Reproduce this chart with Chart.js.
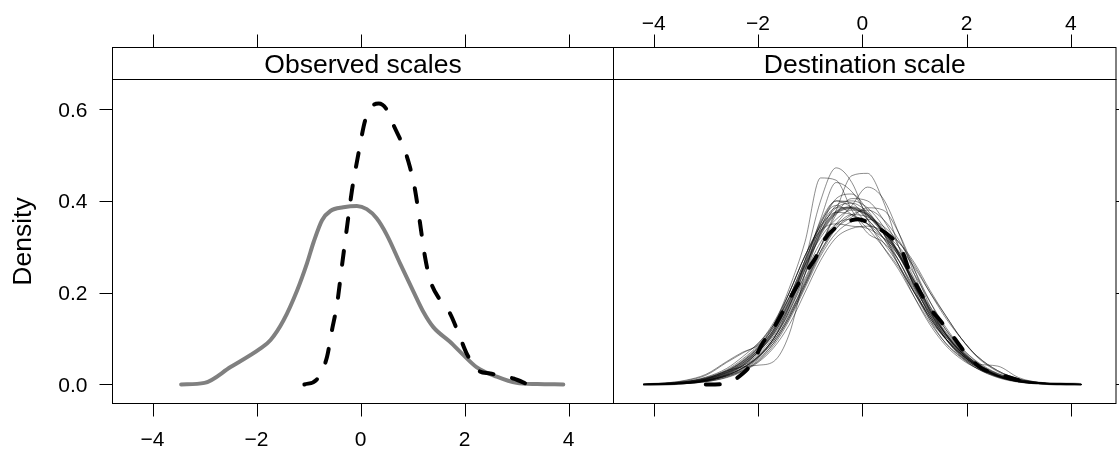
<!DOCTYPE html>
<html>
<head>
<meta charset="utf-8">
<script src="https://cdn.jsdelivr.net/npm/chart.js@4.4.1/dist/chart.umd.min.js"></script>
<style>
  html, body { margin: 0; padding: 0; background: #ffffff; }
  #wrap { position: relative; width: 1119px; height: 449px; overflow: hidden; background: #ffffff; }
  canvas { position: absolute; left: 0; top: 0; }
</style>
</head>
<body>
<div id="wrap">
  <canvas id="c1" width="1119" height="449"></canvas>
  <canvas id="c2" width="1119" height="449"></canvas>
</div>
<script>
// ---------------- data ----------------
const panelTitles = ['Observed scales', 'Destination scale'];
const yTitle = 'Density';
const xTicks = [-4, -2, 0, 2, 4];
const xTickLabels = ['\u22124', '\u22122', '0', '2', '4'];
const yTicks = [0, 0.2, 0.4, 0.6];
const yTickLabels = ['0.0', '0.2', '0.4', '0.6'];

// Left panel: observed (grey solid) and reference (black dashed)
const obsX = [-3.45, -3.0, -2.5, -1.93, -1.73, -1.48, -1.22, -1.03, -0.9, -0.74, -0.58, -0.33, -0.07, 0.12, 0.31, 0.51, 0.76, 1.02, 1.21, 1.4, 1.72, 1.98, 2.23, 2.62, 3.0, 3.4, 3.9];
const obsY = [0, 0.0035, 0.038, 0.078, 0.097, 0.14, 0.205, 0.264, 0.311, 0.358, 0.378, 0.386, 0.389, 0.382, 0.362, 0.325, 0.264, 0.202, 0.158, 0.125, 0.093, 0.064, 0.038, 0.017, 0.0035, 0.001, 0];
const refX = [-1.08, -0.84, -0.645, -0.55, -0.45, -0.36, -0.26, -0.165, -0.04, 0.09, 0.22, 0.35, 0.51, 0.635, 0.825, 0.95, 1.05, 1.145, 1.24, 1.34, 1.53, 1.72, 1.91, 2.04, 2.26, 2.49, 2.94, 3.22];
const refY = [0, 0.011, 0.06, 0.118, 0.176, 0.256, 0.343, 0.423, 0.503, 0.576, 0.606, 0.612, 0.598, 0.565, 0.518, 0.474, 0.423, 0.351, 0.278, 0.227, 0.184, 0.155, 0.104, 0.068, 0.031, 0.024, 0.013, 0];

// Right panel: reference on destination scale (black dashed)
const destRefX = [-3.0, -2.67, -2.28, -2.1, -1.9, -1.7, -1.48, -1.33, -1.1, -0.9, -0.71, -0.49, -0.2, -0.08, 0.2, 0.57, 0.76, 0.91, 1.06, 1.3, 1.49, 1.77, 1.97, 2.29, 2.58, 3.02, 3.3];
const destRefY = [0, 0.001, 0.025, 0.049, 0.092, 0.123, 0.168, 0.199, 0.242, 0.275, 0.318, 0.343, 0.358, 0.36, 0.347, 0.319, 0.292, 0.245, 0.212, 0.166, 0.14, 0.1, 0.07, 0.035, 0.024, 0.009, 0.003];

// Right panel: common x grid for the transformed curves
const destGrid = [-4.2, -3.8, -3.4, -3.0, -2.6, -2.3, -2.0, -1.7, -1.4, -1.1, -0.8, -0.5, -0.2, 0.1, 0.4, 0.7, 1.0, 1.3, 1.6, 1.9, 2.2, 2.6, 3.0, 3.4, 3.8, 4.2];
const destMean = [0, 0.001, 0.004, 0.011, 0.026, 0.045, 0.073, 0.114, 0.176, 0.255, 0.33, 0.375, 0.385, 0.37, 0.335, 0.285, 0.22, 0.158, 0.108, 0.07, 0.043, 0.021, 0.008, 0.003, 0.001, 0];
const draw01 = [0, 0.001, 0.003, 0.008, 0.02, 0.036, 0.062, 0.10, 0.17, 0.27, 0.40, 0.472, 0.44, 0.36, 0.30, 0.25, 0.19, 0.135, 0.09, 0.06, 0.038, 0.018, 0.007, 0.002, 0.001, 0];
const draw02 = [0, 0.001, 0.004, 0.011, 0.026, 0.04, 0.06, 0.095, 0.15, 0.22, 0.30, 0.38, 0.455, 0.46, 0.40, 0.30, 0.21, 0.14, 0.09, 0.058, 0.035, 0.016, 0.006, 0.002, 0.001, 0];
const draw03 = [0, 0.002, 0.006, 0.014, 0.03, 0.05, 0.08, 0.13, 0.21, 0.31, 0.45, 0.445, 0.38, 0.33, 0.31, 0.27, 0.2, 0.14, 0.10, 0.065, 0.04, 0.018, 0.006, 0.002, 0.001, 0];
const draw04 = [0, 0.001, 0.003, 0.009, 0.022, 0.04, 0.07, 0.115, 0.18, 0.26, 0.36, 0.44, 0.42, 0.37, 0.33, 0.28, 0.22, 0.16, 0.11, 0.07, 0.042, 0.02, 0.008, 0.003, 0.001, 0];
const draw05 = [0, 0.001, 0.002, 0.007, 0.02, 0.036, 0.06, 0.10, 0.16, 0.23, 0.30, 0.35, 0.39, 0.43, 0.405, 0.33, 0.24, 0.16, 0.10, 0.06, 0.035, 0.015, 0.005, 0.002, 0.001, 0];
const draw06 = [0, 0.002, 0.005, 0.012, 0.028, 0.05, 0.08, 0.125, 0.19, 0.27, 0.35, 0.40, 0.395, 0.36, 0.32, 0.27, 0.21, 0.155, 0.11, 0.072, 0.044, 0.02, 0.008, 0.003, 0.001, 0];
const draw07 = [0, 0.002, 0.006, 0.016, 0.035, 0.06, 0.09, 0.13, 0.19, 0.26, 0.32, 0.36, 0.38, 0.37, 0.335, 0.285, 0.225, 0.17, 0.12, 0.08, 0.05, 0.024, 0.01, 0.004, 0.001, 0];
const draw08 = [0, 0.001, 0.003, 0.008, 0.018, 0.03, 0.05, 0.085, 0.14, 0.21, 0.28, 0.33, 0.355, 0.36, 0.345, 0.31, 0.26, 0.2, 0.145, 0.1, 0.062, 0.03, 0.012, 0.004, 0.001, 0];
const draw09 = [0, 0.003, 0.009, 0.022, 0.05, 0.07, 0.085, 0.12, 0.2, 0.28, 0.345, 0.385, 0.385, 0.36, 0.32, 0.26, 0.2, 0.145, 0.1, 0.066, 0.04, 0.018, 0.007, 0.002, 0.001, 0];
const draw10 = [0, 0.002, 0.006, 0.015, 0.032, 0.055, 0.085, 0.13, 0.2, 0.28, 0.335, 0.35, 0.345, 0.34, 0.32, 0.29, 0.24, 0.18, 0.125, 0.08, 0.048, 0.022, 0.009, 0.003, 0.001, 0];
const draw11 = [0, 0.001, 0.003, 0.009, 0.021, 0.036, 0.058, 0.095, 0.15, 0.225, 0.30, 0.37, 0.405, 0.40, 0.36, 0.30, 0.23, 0.165, 0.11, 0.07, 0.042, 0.019, 0.007, 0.002, 0.001, 0];
const draw12 = [0, 0.001, 0.004, 0.012, 0.03, 0.038, 0.042, 0.05, 0.11, 0.24, 0.35, 0.39, 0.37, 0.34, 0.30, 0.255, 0.2, 0.15, 0.105, 0.07, 0.043, 0.02, 0.008, 0.003, 0.001, 0];
const draw13 = [0, 0.001, 0.003, 0.008, 0.02, 0.035, 0.06, 0.1, 0.155, 0.22, 0.29, 0.345, 0.37, 0.365, 0.335, 0.285, 0.215, 0.15, 0.1, 0.065, 0.045, 0.04, 0.015, 0.004, 0.001, 0];
const draw14 = [0, 0.001, 0.004, 0.011, 0.026, 0.046, 0.075, 0.12, 0.185, 0.265, 0.355, 0.40, 0.385, 0.35, 0.31, 0.26, 0.2, 0.145, 0.1, 0.065, 0.04, 0.019, 0.008, 0.003, 0.001, 0];
const draw15 = [0, 0.001, 0.002, 0.006, 0.016, 0.03, 0.052, 0.09, 0.145, 0.215, 0.285, 0.34, 0.37, 0.38, 0.36, 0.315, 0.25, 0.18, 0.12, 0.076, 0.045, 0.02, 0.008, 0.003, 0.001, 0];
const draw16 = [0, 0.002, 0.005, 0.013, 0.03, 0.052, 0.082, 0.125, 0.19, 0.27, 0.34, 0.385, 0.395, 0.375, 0.33, 0.26, 0.19, 0.13, 0.085, 0.055, 0.035, 0.017, 0.007, 0.002, 0.001, 0];
const draw17 = [0, 0.001, 0.003, 0.009, 0.022, 0.04, 0.065, 0.105, 0.165, 0.24, 0.31, 0.35, 0.36, 0.35, 0.33, 0.3, 0.255, 0.2, 0.15, 0.1, 0.06, 0.028, 0.011, 0.004, 0.001, 0];
const draw18 = [0, 0.001, 0.003, 0.01, 0.024, 0.042, 0.07, 0.11, 0.17, 0.25, 0.34, 0.405, 0.415, 0.38, 0.33, 0.27, 0.205, 0.145, 0.098, 0.062, 0.038, 0.017, 0.006, 0.002, 0.001, 0];
const draw19 = [0, 0.003, 0.008, 0.02, 0.048, 0.068, 0.088, 0.135, 0.2, 0.28, 0.345, 0.375, 0.37, 0.35, 0.32, 0.28, 0.225, 0.165, 0.115, 0.075, 0.045, 0.02, 0.008, 0.003, 0.001, 0];
const draw20 = [0, 0.001, 0.002, 0.006, 0.015, 0.028, 0.048, 0.08, 0.13, 0.2, 0.27, 0.32, 0.34, 0.345, 0.335, 0.31, 0.265, 0.205, 0.15, 0.1, 0.062, 0.03, 0.012, 0.004, 0.001, 0];
const draw21 = [0, 0.001, 0.003, 0.008, 0.019, 0.034, 0.058, 0.1, 0.16, 0.24, 0.33, 0.39, 0.40, 0.385, 0.345, 0.285, 0.215, 0.15, 0.1, 0.063, 0.038, 0.017, 0.006, 0.002, 0.001, 0];
const draw22 = [0, 0.001, 0.002, 0.007, 0.018, 0.032, 0.055, 0.09, 0.145, 0.215, 0.29, 0.34, 0.365, 0.385, 0.38, 0.33, 0.25, 0.17, 0.11, 0.068, 0.04, 0.018, 0.007, 0.002, 0.001, 0];
const destDraws = [draw01, draw02, draw03, draw04, draw05, draw06, draw07, draw08, draw09, draw10, draw11,
                   draw12, draw13, draw14, draw15, draw16, draw17, draw18, draw19, draw20, draw21, draw22];

// ---------------- layout ----------------
const W = 1119, H = 449;
const PANEL_TOP = 79.5, PANEL_BOTTOM = 403.5, STRIP_TOP = 47.5;
const P1 = { left: 112.5, right: 613.5 };
const P2 = { left: 613.5, right: 1116 };
const X_MIN = -4.77, X_MAX = 4.865, Y_MIN = -0.0414, Y_MAX = 0.6645;
const FONT = '"Liberation Sans", Arial, Helvetica, sans-serif';
const TICK_LEN = 13;

function pts(xs, ys) { return xs.map((x, i) => ({ x: x, y: ys[i] })); }

const panelPlugin = {
  id: 'panel',
  afterDatasetsDraw(chart, args, o) {
    const ctx = chart.ctx, ca = chart.chartArea;
    const xs = chart.scales.x, ys = chart.scales.y;
    ctx.save();
    ctx.strokeStyle = '#000';
    ctx.lineWidth = 1;
    ctx.fillStyle = '#000';
    // panel frame
    ctx.strokeRect(ca.left, ca.top, ca.right - ca.left, ca.bottom - ca.top);
    // strip
    ctx.fillStyle = '#fff';
    ctx.fillRect(ca.left, STRIP_TOP, ca.right - ca.left, ca.top - STRIP_TOP);
    ctx.strokeRect(ca.left, STRIP_TOP, ca.right - ca.left, ca.top - STRIP_TOP);
    ctx.fillStyle = '#000';
    ctx.font = '26.5px ' + FONT;
    ctx.textAlign = 'center';
    ctx.textBaseline = 'alphabetic';
    ctx.fillText(o.title, (ca.left + ca.right) / 2, 73);
    // x ticks
    ctx.font = '21px ' + FONT;
    ctx.beginPath();
    xTicks.forEach(v => {
      const px = Math.round(xs.getPixelForValue(v)) + 0.5;
      ctx.moveTo(px, ca.bottom); ctx.lineTo(px, ca.bottom + TICK_LEN);
      ctx.moveTo(px, STRIP_TOP); ctx.lineTo(px, STRIP_TOP - TICK_LEN);
    });
    ctx.stroke();
    xTicks.forEach((v, i) => {
      const px = xs.getPixelForValue(v);
      if (o.bottomLabels) ctx.fillText(xTickLabels[i], px, 446);
      if (o.topLabels) ctx.fillText(xTickLabels[i], px, 30);
    });
    // y ticks
    ctx.beginPath();
    yTicks.forEach(v => {
      const py = Math.round(ys.getPixelForValue(v)) + 0.5;
      if (o.leftTicks) { ctx.moveTo(ca.left, py); ctx.lineTo(ca.left - TICK_LEN, py); }
      if (o.rightTicks) { ctx.moveTo(ca.right, py); ctx.lineTo(ca.right + TICK_LEN, py); }
    });
    ctx.stroke();
    if (o.leftTicks) {
      ctx.textAlign = 'right';
      yTicks.forEach((v, i) => {
        const py = ys.getPixelForValue(v);
        ctx.fillText(yTickLabels[i], 87.5, py + 7.5);
      });
      // y title
      ctx.save();
      ctx.translate(30.5, (ca.top + ca.bottom) / 2);
      ctx.rotate(-Math.PI / 2);
      ctx.font = '26.5px ' + FONT;
      ctx.textAlign = 'center';
      ctx.fillText(yTitle, 0, 0);
      ctx.restore();
    }
    ctx.restore();
  }
};

function makeOptions(panel, pluginOpts) {
  return {
    responsive: false,
    animation: false,
    devicePixelRatio: 1,
    layout: { padding: { left: panel.left, right: W - panel.right, top: PANEL_TOP, bottom: H - PANEL_BOTTOM } },
    plugins: { legend: { display: false }, tooltip: { enabled: false }, title: { display: false }, panel: pluginOpts },
    scales: {
      x: { type: 'linear', min: X_MIN, max: X_MAX, display: false },
      y: { type: 'linear', min: Y_MIN, max: Y_MAX, display: false }
    },
    elements: { point: { radius: 0 }, line: { cubicInterpolationMode: 'monotone', borderJoinStyle: 'round' } }
  };
}

// Left panel (datasets drawn in reverse order: first = on top)
new Chart(document.getElementById('c1'), {
  type: 'line',
  data: {
    datasets: [
      { data: pts(refX, refY), borderColor: '#000000', borderWidth: 4, borderDash: [14, 19], borderCapStyle: 'round', fill: false },
      { data: pts(obsX, obsY), borderColor: '#808080', borderWidth: 4, borderCapStyle: 'round', fill: false }
    ]
  },
  options: makeOptions(P1, { title: panelTitles[0], bottomLabels: true, topLabels: false, leftTicks: true, rightTicks: false }),
  plugins: [panelPlugin]
});

// Right panel
const rightSets = [
  { data: pts(destRefX, destRefY), borderColor: '#000000', borderWidth: 4, borderDash: [14, 19], borderCapStyle: 'round', fill: false }
];
destDraws.forEach(d => rightSets.push({ data: pts(destGrid, d), borderColor: 'rgba(0,0,0,0.45)', borderWidth: 1, fill: false }));
rightSets.push({ data: pts(destGrid, destMean), borderColor: '#808080', borderWidth: 3, fill: false });

new Chart(document.getElementById('c2'), {
  type: 'line',
  data: { datasets: rightSets },
  options: makeOptions(P2, { title: panelTitles[1], bottomLabels: false, topLabels: true, leftTicks: false, rightTicks: true }),
  plugins: [panelPlugin]
});
</script>
</body>
</html>
